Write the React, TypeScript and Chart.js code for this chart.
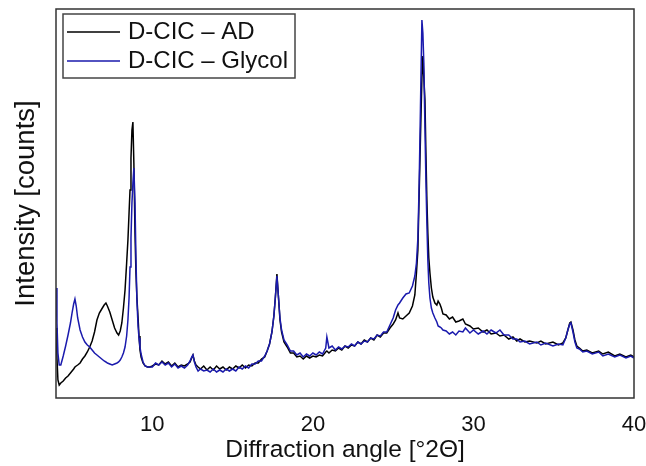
import React, { useEffect, useRef } from "react";
import { Chart, registerables } from "chart.js";

Chart.register(...registerables);

const angles = [
  4.0, 4.06, 4.12, 4.2, 4.3, 4.45, 4.6, 4.75, 4.9, 5.0,
  5.1, 5.18, 5.26, 5.35, 5.5, 5.65, 5.8, 5.95, 6.1, 6.25,
  6.4, 6.55, 6.7, 6.85, 7.0, 7.11, 7.2, 7.35, 7.5, 7.65,
  7.8, 7.9, 8.0, 8.1, 8.2, 8.3, 8.4, 8.48, 8.55, 8.61,
  8.67, 8.73, 8.79, 8.85, 8.92, 8.98, 9.04, 9.11, 9.17, 9.23,
  9.3, 9.42, 9.55, 9.7, 9.85,
  10.0, 10.2, 10.4, 10.6, 10.8, 11.0, 11.2, 11.4, 11.6, 11.8,
  12.0, 12.2, 12.35, 12.45, 12.53, 12.62, 12.72, 12.85, 13.0, 13.2,
  13.4, 13.6, 13.8, 14.0, 14.2, 14.4, 14.6, 14.8, 15.0, 15.2,
  15.4, 15.6, 15.8, 16.0, 16.2, 16.4, 16.6, 16.8, 17.0,
  17.15, 17.3, 17.45, 17.57, 17.66, 17.76, 17.86, 17.95, 18.05, 18.2,
  18.4, 18.6, 18.8, 19.0, 19.2, 19.4, 19.6, 19.8, 20.0, 20.2,
  20.4, 20.6, 20.8, 20.87, 21.0, 21.2, 21.4, 21.6, 21.8, 22.0,
  22.2, 22.4, 22.6, 22.8, 23.0, 23.2, 23.4, 23.6, 23.8, 24.0,
  24.2, 24.4, 24.6, 24.8, 25.0,
  25.15, 25.3, 25.4, 25.6, 25.8, 26.0, 26.2, 26.35, 26.45, 26.54,
  26.62, 26.7, 26.79, 26.85, 26.91, 26.98, 27.04, 27.1, 27.16, 27.22,
  27.29, 27.38, 27.47, 27.6, 27.72, 27.8, 27.91, 28.0, 28.1,
  28.3, 28.5, 28.7, 28.9, 29.1, 29.34, 29.5, 29.78, 30.0, 30.3,
  30.6, 30.84, 31.1, 31.4, 31.65, 31.9, 32.2, 32.46, 32.7, 32.9,
  33.2, 33.5, 33.95, 34.2, 34.5, 34.95, 35.3, 35.57, 35.75, 35.88,
  36.0, 36.07, 36.2, 36.32, 36.44, 36.6, 36.81, 37.06, 37.4, 37.8,
  38.06, 38.4, 38.8, 39.12, 39.5, 39.8, 40.0,
];

const intensityAD = [
  70, 40, 18, 13, 15, 17, 20, 22, 25, 27,
  29, 31, 32, 33, 35, 39, 42, 46, 51, 57,
  66, 78, 85, 89, 93, 95, 92, 86, 78, 70,
  65, 63, 67, 75, 90, 108, 135, 158, 185, 208,
  240, 268, 276, 235, 165, 125, 100, 81, 62, 48,
  41, 35, 32, 31, 31,
  32, 34, 33, 37, 34, 36, 32, 35, 31, 33,
  32, 34, 36, 40, 43, 37, 33, 31, 29, 32,
  28, 31, 28, 32, 29, 31, 28, 31, 29, 32,
  30, 33, 30, 33, 32, 35, 35, 39, 41,
  47, 54, 66, 82, 100, 124, 100, 78, 66, 56,
  51, 45, 45, 41, 42, 39, 42, 40, 42, 41,
  43, 42, 46, 47, 45, 48, 47, 50, 48, 52,
  50, 53, 52, 56, 54, 58, 56, 60, 58, 63,
  61, 65, 65, 70, 74,
  78, 85, 80, 79, 82, 85, 92, 103, 125, 148,
  205, 260, 320, 342, 320, 298, 245, 198, 165, 140,
  125, 110, 101, 95, 93, 97, 94, 90, 84,
  83, 79, 81, 76, 77, 79, 74, 72, 69, 70,
  66, 68, 64, 65, 62, 63, 59, 61, 57, 59,
  56, 57, 55, 57, 54, 56, 53, 55, 60, 68,
  75, 76, 68, 58, 52, 50, 47, 48, 45, 47,
  44, 46, 42, 44, 41, 43, 41,
];

const intensityGlycol = [
  110, 75, 45, 33, 33, 42, 52, 63, 75, 85,
  94, 99, 92, 80, 68, 61, 56, 53, 51, 48,
  45, 43, 41, 39, 37, 36, 35, 34, 33, 34,
  35, 36, 38, 41, 45, 51, 62, 78, 100, 131,
  160, 195, 215, 230, 195, 140, 98, 72, 60, 51,
  44, 36, 32, 31, 31,
  31, 35, 33, 36, 33, 35, 31, 34, 30, 32,
  30, 33, 37, 41, 43, 36, 31, 27, 29, 27,
  28, 26, 29, 26, 28, 26, 29, 27, 29, 27,
  31, 29, 32, 30, 34, 34, 37, 37, 42,
  47, 54, 66, 82, 100, 122, 100, 80, 68, 58,
  53, 47, 47, 43, 45, 41, 44, 42, 45, 43,
  46, 44, 50, 61, 50, 52, 48, 51, 49, 52,
  51, 54, 52, 56, 54, 57, 56, 60, 59, 63,
  62, 66, 66, 73, 80,
  88, 93, 95, 100, 104, 105, 112, 122, 135, 160,
  215, 290, 378, 365, 335, 270, 218, 175, 138, 115,
  100, 90, 85, 80, 76, 72, 71, 70, 68,
  67, 64, 66, 63, 67, 66, 70, 65, 68, 64,
  67, 64, 68, 65, 68, 63, 63, 59, 59, 56,
  57, 54, 56, 53, 55, 52, 54, 53, 60, 68,
  74, 75, 66, 56, 50, 49, 46, 47, 44, 46,
  42, 44, 41, 43, 40, 42, 40,
];

const xTickValues = [10, 20, 30, 40];
const seriesNames = ["D-CIC – AD", "D-CIC – Glycol"];
const seriesColors = ["#000000", "#1a1aad"];
const FONT = "'Liberation Sans', Arial, Helvetica, sans-serif";

const framePlugin = {
  id: "frameAndLegend",
  afterDatasetsDraw(chart: any) {
    const { ctx, chartArea: a } = chart;
    ctx.save();
    ctx.strokeStyle = "#333333";
    ctx.lineWidth = 1.5;
    ctx.strokeRect(a.left, a.top, a.right - a.left, a.bottom - a.top);
    const bx = a.left + 7;
    const by = a.top + 5;
    const bw = 232;
    const bh = 64;
    ctx.fillStyle = "#ffffff";
    ctx.fillRect(bx, by, bw, bh);
    ctx.strokeStyle = "#444444";
    ctx.strokeRect(bx, by, bw, bh);
    chart.data.datasets.forEach((ds: any, i: number) => {
      const y = by + 18 + i * 29;
      ctx.strokeStyle = ds.borderColor;
      ctx.lineWidth = 1.6;
      ctx.beginPath();
      ctx.moveTo(bx + 4, y);
      ctx.lineTo(bx + 57, y);
      ctx.stroke();
      ctx.fillStyle = "#111111";
      ctx.font = `24px ${FONT}`;
      ctx.textBaseline = "middle";
      ctx.textAlign = "left";
      ctx.fillText(ds.label, bx + 65, y);
    });
    ctx.restore();
  },
};

export default function App() {
  const canvasRef = useRef<HTMLCanvasElement | null>(null);

  useEffect(() => {
    if (!canvasRef.current) return;
    const chart = new Chart(canvasRef.current, {
      type: "line",
      data: {
        datasets: [
          {
            label: seriesNames[0],
            data: angles.map((x, i) => ({ x, y: intensityAD[i] })),
            borderColor: seriesColors[0],
            backgroundColor: seriesColors[0],
            borderWidth: 1.5,
            pointRadius: 0,
            tension: 0,
            order: 1,
          },
          {
            label: seriesNames[1],
            data: angles.map((x, i) => ({ x, y: intensityGlycol[i] })),
            borderColor: seriesColors[1],
            backgroundColor: seriesColors[1],
            borderWidth: 1.5,
            pointRadius: 0,
            tension: 0,
            order: 0,
          },
        ],
      },
      options: {
        animation: false,
        responsive: false,
        layout: { padding: { top: 9, right: 12, bottom: 0, left: 0 } },
        plugins: {
          legend: { display: false },
          tooltip: { enabled: false },
        },
        scales: {
          x: {
            type: "linear",
            min: 4,
            max: 40,
            grid: { display: false },
            border: { display: false },
            afterBuildTicks: (s: any) => {
              s.ticks = xTickValues.map((v) => ({ value: v }));
            },
            afterFit: (s: any) => {
              s.height = 68;
              s.paddingLeft = 0;
              s.paddingRight = 0;
            },
            ticks: {
              font: { family: FONT, size: 22 },
              color: "#111111",
              padding: 6,
              maxRotation: 0,
              autoSkip: false,
            },
            title: {
              display: true,
              text: "Diffraction angle [°2Θ]",
              font: { family: FONT, size: 24.5, lineHeight: 1 },
              color: "#111111",
              padding: { top: 0, bottom: 4 },
            },
          },
          y: {
            type: "linear",
            min: 0,
            max: 389,
            grid: { display: false },
            border: { display: false },
            ticks: { display: false },
            afterFit: (s: any) => {
              s.width = 56;
            },
            title: {
              display: true,
              text: "Intensity [counts]",
              font: { family: FONT, size: 27.5, lineHeight: 1 },
              color: "#111111",
              padding: { top: 13, bottom: 0 },
            },
          },
        },
      },
      plugins: [framePlugin],
    });
    return () => chart.destroy();
  }, []);

  return (
    <div style={{ position: "absolute", left: 0, top: 0, width: 646, height: 466 }}>
      <canvas ref={canvasRef} width={646} height={466} />
    </div>
  );
}
